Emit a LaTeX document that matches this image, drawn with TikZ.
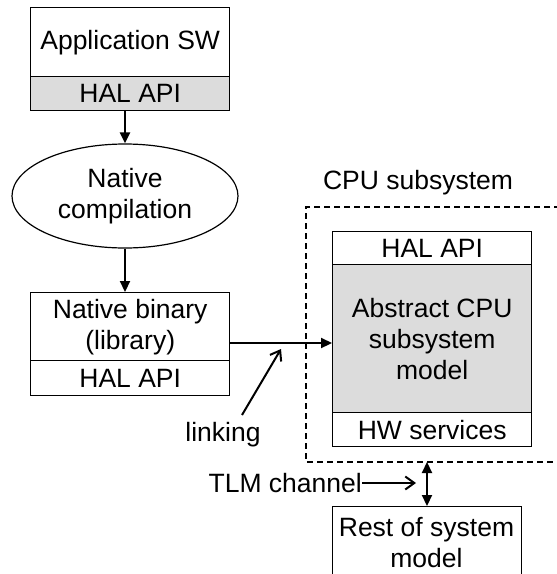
\documentclass[tikz,border=0pt]{standalone}
\usepackage{fontspec}
\setmainfont{Liberation Sans}
\usetikzlibrary{arrows.meta,shapes.geometric,calc}
\definecolor{halgray}{HTML}{DCDCDC}
\begin{document}
\begin{tikzpicture}[x=1pt,y=-1pt,
  every node/.style={font=\fontsize{26.5}{31}\selectfont},
  part/.style={draw=black,line width=1.4pt,inner sep=0pt,align=center,anchor=north west},
  grayfill/.style={fill=halgray},
  flow/.style={line width=2.2pt,-{Triangle[length=11pt,width=10pt]}},
  pointer/.style={line width=2pt,-{Straight Barb[length=9pt,width=13pt]}},
  cpubox/.style={draw=black,line width=1.5pt,dash pattern=on 6pt off 4pt}
]
\useasboundingbox (0,0) rectangle (557,574);
% Application SW
\node[part,minimum width=199pt,minimum height=69pt] (app) at (30,7) {Application SW};
\node[part,grayfill,minimum width=199pt,minimum height=34pt] (apphal) at (30,76) {HAL API};
% Native compilation
\node[draw=black,line width=1.2pt,ellipse,minimum width=226pt,minimum height=104pt,inner sep=0pt,align=center] (comp) at (125,196) {Native\\compilation};
% Native binary
\node[part,minimum width=199pt,minimum height=68pt] (bin) at (30,292) {Native binary\\(library)};
\node[part,minimum width=199pt,minimum height=35pt] (binhal) at (30,360) {HAL API};
% CPU subsystem dashed region
\draw[cpubox] (570,207) -- (306,207) -- (306,462) -- (570,462);
\node (cpulabel) at (418,183) {CPU subsystem};
\node[part,minimum width=199pt,minimum height=33pt] (cpuhal) at (332,231) {HAL API};
\node[part,grayfill,minimum width=199pt,minimum height=148pt] (cpu) at (332,264) {Abstract CPU\\subsystem\\model};
\node[part,minimum width=199pt,minimum height=34pt] (hw) at (332,412) {HW services};
% Rest of system
\node[part,minimum width=189pt,minimum height=90pt,text depth=0pt] (rest) at (332,506) {};
\node (resttext) at (426.5,543) [align=center] {Rest of system\\model};
% arrows
\draw[flow] (comp.north |- apphal.south) -- (comp.north);
\draw[flow] (comp.south) -- (comp.south |- bin.north);
\coordinate (linkfrom) at (229,343);
\draw[flow] (linkfrom) -- (linkfrom -| cpu.west);
\node (linking) at (223,435) {linking};
\coordinate (lks) at (242,415);
\coordinate (lke) at (281,349);
\draw[pointer] (lks) -- (lke);
\coordinate (tlmtop) at (427,462);
\draw[line width=2.2pt,{Triangle[length=11pt,width=10pt]}-{Triangle[length=11pt,width=10pt]}] (tlmtop) -- (tlmtop |- rest.north);
\node[anchor=east,inner sep=0pt] (tlm) at (362,483) {TLM channel};
\coordinate (tlmend) at (416,483);
\draw[pointer] (tlm.east) -- (tlmend);
\end{tikzpicture}
\end{document}
